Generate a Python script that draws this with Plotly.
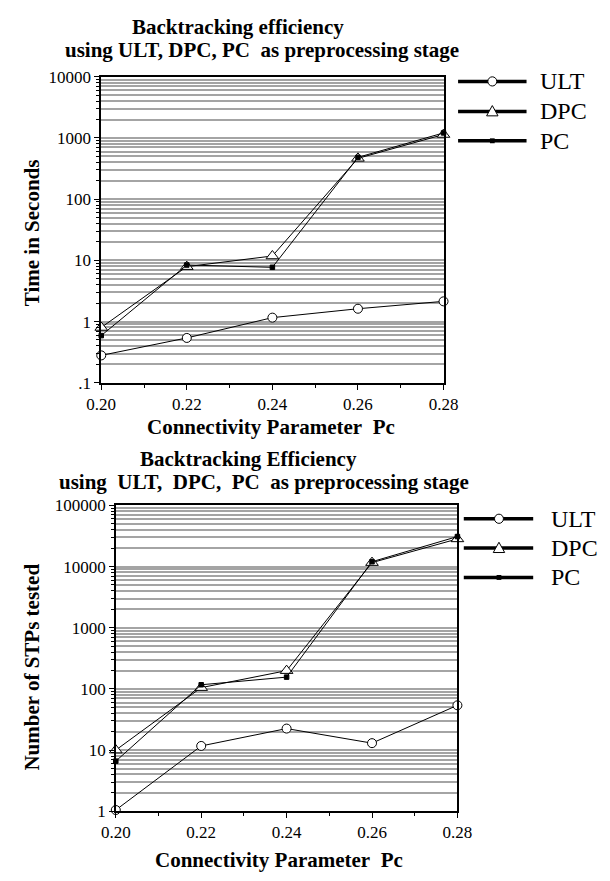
import plotly.graph_objects as go

# ---------------- data ----------------
pc = [0.20, 0.22, 0.24, 0.26, 0.28]
pc_labels = ["0.20", "0.22", "0.24", "0.26", "0.28"]

time_ult = [0.28, 0.54, 1.16, 1.62, 2.14]
time_dpc = [0.80, 7.9, 11.8, 465, 1140]
time_pc = [0.59, 8.4, 7.7, 483, 1210]

stp_ult = [1.05, 11.7, 22.5, 13, 54]
stp_dpc = [10.0, 105, 199, 11600, 28300]
stp_pc = [6.6, 117, 156, 12000, 30900]

top_ticks = [0.1, 1, 10, 100, 1000, 10000]
top_ticktext = [".1", "1", "10", "100", "1000", "10000"]
bot_ticks = [1, 10, 100, 1000, 10000, 100000]
bot_ticktext = ["1", "10", "100", "1000", "10000", "100000"]

series_names = ["ULT", "DPC", "PC"]

# ---------------- style ----------------
W, H = 610, 881
FONT = "Liberation Serif"
GRID = "#a4a4a4"


def X(px):
    return px / W


def Y(py):
    return 1 - py / H


marker_styles = {
    "ULT": dict(symbol="circle", size=9, color="white", line=dict(color="black", width=1)),
    "DPC": dict(symbol="triangle-up", size=11, color="white", line=dict(color="black", width=1)),
    "PC": dict(symbol="square", size=4.5, color="black", line=dict(color="black", width=1)),
}

fig = go.Figure()

for name, ys in zip(series_names, [time_ult, time_dpc, time_pc]):
    fig.add_trace(go.Scatter(x=pc, y=ys, mode="lines+markers", name=name,
                             line=dict(color="black", width=1),
                             marker=marker_styles[name], cliponaxis=False,
                             showlegend=False, xaxis="x", yaxis="y"))
for name, ys in zip(series_names, [stp_ult, stp_dpc, stp_pc]):
    fig.add_trace(go.Scatter(x=pc, y=ys, mode="lines+markers", name=name,
                             line=dict(color="black", width=1),
                             marker=marker_styles[name], cliponaxis=False,
                             showlegend=False, xaxis="x2", yaxis="y2"))


def minor_log(lo, hi):
    return [m * 10 ** e for e in range(lo, hi) for m in range(2, 10)]


def xaxis_cfg(domain, anchor):
    return dict(domain=domain, anchor=anchor, range=[0.20, 0.28],
                tickvals=pc, ticktext=pc_labels,
                showline=True, linecolor="black", linewidth=1.5, mirror=True,
                ticks="outside", ticklen=5, tickwidth=1, tickcolor="black",
                minor=dict(ticks="outside", ticklen=3, tickwidth=1, tickcolor="black",
                           dtick=0.01, tick0=0.2, showgrid=False),
                showgrid=False, zeroline=False,
                tickfont=dict(family=FONT, size=17, color="black"))


def yaxis_cfg(domain, anchor, rng, tv, tt, lo, hi):
    return dict(domain=domain, anchor=anchor, type="log", range=rng,
                tickvals=tv, ticktext=tt,
                showline=True, linecolor="black", linewidth=1.5, mirror=True,
                ticks="outside", ticklen=5, tickwidth=1, tickcolor="black",
                showgrid=True, gridcolor=GRID, gridwidth=1.5,
                minor=dict(tickvals=minor_log(lo, hi), ticks="outside", ticklen=3,
                           tickwidth=1, tickcolor="black",
                           showgrid=True, gridcolor=GRID, gridwidth=1.5),
                zeroline=False,
                tickfont=dict(family=FONT, size=17, color="black"))


annotations = []


def text(x, y, s, size, bold=False, angle=0, anchor="center"):
    annotations.append(dict(x=X(x), y=Y(y), xref="paper", yref="paper",
                            text=("<b>%s</b>" % s) if bold else s,
                            showarrow=False, textangle=angle,
                            xanchor=anchor, yanchor="middle",
                            font=dict(family=FONT, size=size, color="black")))


NB = "\u00a0"
# top chart texts
text(234.5, 18, "Backtracking efficiency", 21, True)
text(260, 42, "using ULT, DPC, PC" + NB + NB + "as preprocessing stage", 21, True)
text(269, 427, "Connectivity Parameter" + NB + NB + "Pc", 21, True)
text(18, 229, "Time in Seconds", 21, True, -90)
# bottom chart texts
text(246, 460, "Backtracking Efficiency", 21, True)
text(262, 483.5, "using" + NB + NB + "ULT," + NB + NB + "DPC," + NB + NB + "PC" + NB + NB + "as preprocessing stage", 21, True)
text(278, 870, "Connectivity Parameter" + NB + NB + "Pc", 21, True)
text(18, 673, "Number of STPs tested", 21, True, -90)

# custom legends (layout decoration)
shapes = []


def legend(x0, x1, xm, xt, rows):
    for name, yy in zip(series_names, rows):
        shapes.append(dict(type="line", xref="paper", yref="paper",
                           x0=X(x0), x1=X(x1), y0=Y(yy), y1=Y(yy),
                           line=dict(color="black", width=3.5)))
        if name == "ULT":
            r = 4.7
            shapes.append(dict(type="circle", xref="paper", yref="paper",
                               x0=X(xm - r), x1=X(xm + r), y0=Y(yy + r), y1=Y(yy - r),
                               fillcolor="white", line=dict(color="black", width=1)))
        elif name == "DPC":
            path = "M %f,%f L %f,%f L %f,%f Z" % (X(xm - 6), Y(yy + 4.5), X(xm + 6), Y(yy + 4.5),
                                                  X(xm), Y(yy - 6))
            shapes.append(dict(type="path", xref="paper", yref="paper", path=path,
                               fillcolor="white", line=dict(color="black", width=1)))
        else:
            s = 2.5
            shapes.append(dict(type="rect", xref="paper", yref="paper",
                               x0=X(xm - s), x1=X(xm + s), y0=Y(yy + s), y1=Y(yy - s),
                               fillcolor="black", line=dict(color="black", width=0)))
        text(xt, yy, name, 24, False, 0, "left")


legend(466, 538, 502, 550, [74, 104.7, 134.7])
legend(472, 545, 509, 562, [521, 551, 581])

fig.update_layout(
    width=W, height=H, margin=dict(l=0, r=0, t=0, b=0),
    paper_bgcolor="white", plot_bgcolor="white",
    showlegend=False,
    font=dict(family=FONT, color="black"),
    xaxis=xaxis_cfg([X(90.7), X(450.7)], "y"),
    yaxis=yaxis_cfg([Y(382), Y(69.3)], "x", [-1, 4], top_ticks, top_ticktext, -1, 4),
    xaxis2=xaxis_cfg([X(106), X(465.3)], "y2"),
    yaxis2=yaxis_cfg([Y(820), Y(507.3)], "x2", [0, 5], bot_ticks, bot_ticktext, 0, 5),
    annotations=annotations, shapes=shapes,
)

fig.write_html("out.html")
